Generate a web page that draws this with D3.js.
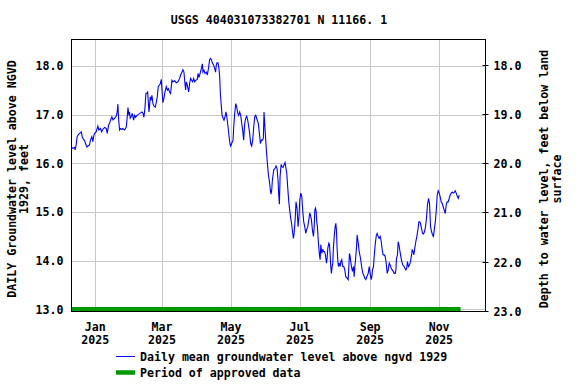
<!DOCTYPE html>
<html><head><meta charset="utf-8">
<script src="https://cdn.jsdelivr.net/npm/d3@7/dist/d3.min.js"></script>
<style>
body{margin:0;background:#fff}
text{font-family:"DejaVu Sans Mono","Liberation Mono",monospace;font-weight:bold;font-size:11.6px;fill:#000}
</style>
</head><body>
<svg id="chart" width="576" height="384"></svg>
<script>
// ---------- data ----------
const chartTitle = "USGS 404031073382701 N 11166. 1";
const leftAxisTitle = ["DAILY Groundwater level above NGVD", "1929, feet"];
const rightAxisTitle = ["Depth to water level, feet below land", "surface"];
const leftTicks = [13, 14, 15, 16, 17, 18];
const rightTicks = [18, 19, 20, 21, 22, 23];
const monthTicks = ["2025-01-01", "2025-03-01", "2025-05-01", "2025-07-01", "2025-09-01", "2025-11-01"];
const monthLabels = ["Jan", "Mar", "May", "Jul", "Sep", "Nov"];
const yearLabels = ["2025", "2025", "2025", "2025", "2025", "2025"];
const legendLabels = ["Daily mean groundwater level above ngvd 1929", "Period of approved data"];
const xDomain = ["2024-12-11", "2025-12-12"];
const approvedPeriod = ["2024-12-11", "2025-11-20"];
const approvedLevel = 13.0;
const baseDate = "2025-01-01";
// [days since 2025-01-01, daily mean level (ft above NGVD 1929)]
const dailyLevels = [
[-21.3,16.34],[-19.8,16.31],[-18.3,16.33],[-17.7,16.28],[-16.9,16.38],[-16.0,16.55],[-14.8,16.60],[-13.3,16.63],[-12.4,16.65],[-11.5,16.55],
[-10.4,16.49],[-9.5,16.48],[-8.6,16.41],[-7.4,16.34],[-6.5,16.36],[-5.1,16.38],[-4.2,16.48],[-3.0,16.55],[-2.1,16.45],[-1.2,16.58],
[-0.6,16.62],[0.8,16.65],[2.3,16.77],[3.2,16.69],[4.7,16.72],[5.6,16.65],[6.7,16.70],[8.2,16.74],[9.7,16.72],[10.6,16.62],
[11.8,16.79],[12.6,16.82],[13.5,16.89],[14.7,16.96],[15.6,16.90],[17.1,16.93],[18.5,16.97],[19.4,17.06],[20.0,17.22],[20.6,16.93],
[21.5,16.69],[22.4,16.72],[23.6,16.70],[24.4,16.72],[25.9,16.69],[27.4,16.75],[28.3,16.96],[28.9,17.15],[29.8,16.99],[30.3,17.06],
[30.9,16.93],[31.8,16.96],[32.7,17.03],[33.9,16.89],[34.8,16.99],[35.7,16.95],[36.8,16.99],[38.3,17.01],[40.1,17.04],[41.3,17.06],
[42.1,17.04],[43.0,16.95],[43.9,17.13],[44.8,17.44],[45.7,17.45],[46.3,17.47],[46.9,17.27],[47.5,17.06],[48.0,17.18],[48.6,17.37],
[49.2,17.30],[50.1,17.40],[51.0,17.23],[51.9,17.18],[53.1,17.16],[53.9,17.25],[54.8,17.37],[55.7,17.58],[56.6,17.61],[57.5,17.64],
[58.4,17.73],[59.0,17.51],[59.8,17.25],[60.7,17.34],[61.6,17.47],[62.8,17.58],[63.7,17.51],[64.6,17.54],[65.7,17.47],[66.6,17.44],
[67.8,17.71],[68.7,17.68],[70.2,17.70],[71.6,17.66],[73.1,17.68],[74.6,17.75],[75.5,17.82],[76.7,17.88],[77.5,17.93],[78.4,17.88],
[79.3,17.64],[79.9,17.51],[80.5,17.68],[81.4,17.61],[82.6,17.47],[83.4,17.64],[84.3,17.75],[85.2,17.71],[86.1,17.68],[87.0,17.75],
[87.9,17.68],[88.8,17.71],[90.2,17.73],[90.8,17.85],[91.7,17.78],[92.3,17.82],[93.8,17.95],[94.7,18.05],[95.2,17.88],[96.1,17.92],
[97.0,17.85],[98.2,17.88],[99.1,17.82],[100.3,17.99],[101.1,18.14],[102.0,18.16],[102.9,18.12],[103.5,18.07],[104.7,18.02],[105.6,17.95],
[106.4,17.88],[107.0,18.02],[107.6,18.07],[108.5,18.07],[109.4,17.95],[110.0,17.78],[110.6,17.44],[111.5,17.16],[112.1,16.99],[113.0,16.93],
[113.8,16.89],[114.7,16.96],[115.6,17.06],[116.5,16.93],[117.4,16.75],[118.3,16.55],[119.1,16.41],[119.7,16.36],[120.6,16.41],[121.8,16.48],
[122.4,16.75],[123.3,17.03],[124.2,17.23],[125.0,17.17],[125.9,17.04],[126.8,16.99],[127.7,17.06],[128.6,16.99],[129.5,16.82],[130.3,16.69],
[131.2,16.48],[132.1,16.82],[133.0,16.93],[133.9,16.97],[134.8,16.89],[135.7,16.75],[136.5,16.62],[137.4,16.41],[138.3,16.36],[139.2,16.48],
[140.1,16.75],[141.0,16.96],[141.9,16.99],[142.7,16.93],[144.2,16.82],[145.1,16.62],[146.0,16.41],[146.9,16.48],[147.8,16.48],[148.6,16.52],
[149.2,17.06],[149.8,16.82],[150.7,16.48],[151.6,16.17],[152.2,16.00],[153.1,15.76],[154.0,15.63],[154.8,15.45],[155.4,15.37],[156.0,15.45],
[156.6,15.66],[157.8,15.87],[159.0,15.90],[159.8,15.95],[160.7,15.90],[161.6,15.66],[162.2,15.35],[162.8,15.16],[163.4,15.73],[164.3,15.98],
[165.2,15.93],[166.0,15.92],[166.9,15.97],[167.8,16.02],[168.4,15.93],[169.3,15.80],[170.2,15.49],[171.1,15.21],[171.9,15.04],[172.8,14.87],
[173.7,14.74],[174.6,14.56],[175.2,14.46],[175.8,14.56],[176.7,14.84],[177.5,15.21],[178.4,15.08],[179.3,14.70],[180.2,14.94],[180.8,15.25],
[181.7,15.39],[182.6,15.32],[183.5,15.01],[184.3,14.80],[185.2,14.70],[186.1,14.56],[187.0,14.65],[187.9,14.70],[188.8,14.84],[189.6,14.98],
[190.2,14.94],[191.1,14.84],[192.0,14.63],[192.9,14.50],[193.5,14.67],[194.1,15.04],[194.7,15.08],[195.3,15.01],[195.8,14.80],[196.4,14.70],
[197.3,14.36],[198.2,14.12],[198.8,14.02],[199.4,14.33],[200.3,14.15],[201.1,14.24],[201.7,14.19],[202.6,14.19],[203.5,14.12],[204.4,13.95],
[205.0,14.05],[205.6,14.26],[206.5,14.36],[207.1,14.33],[207.6,14.15],[208.2,13.88],[208.8,13.74],[209.4,13.88],[210.0,13.95],[210.6,14.29],
[211.5,14.56],[212.1,14.70],[212.7,14.77],[213.2,14.63],[213.8,14.26],[214.4,14.02],[215.0,13.88],[215.6,13.95],[216.5,13.88],[217.1,13.98],
[217.9,14.02],[218.8,13.88],[219.7,13.88],[220.6,13.81],[221.5,13.67],[222.7,13.64],[223.6,13.61],[224.2,13.88],[224.7,14.15],[225.3,14.09],
[225.9,13.98],[226.5,13.88],[227.4,13.78],[228.3,13.88],[228.9,13.67],[229.5,13.88],[230.1,14.02],[231.0,14.29],[231.5,14.53],[232.1,14.43],
[232.7,14.33],[233.3,14.19],[233.9,14.12],[234.5,14.05],[235.1,13.95],[235.7,13.85],[236.5,13.74],[237.4,13.70],[238.3,13.64],[239.2,13.61],
[240.1,13.67],[241.3,13.74],[242.2,13.88],[243.0,13.74],[243.9,13.61],[244.5,13.67],[245.1,13.81],[246.0,13.88],[246.6,14.09],[247.5,14.33],
[248.4,14.51],[249.2,14.56],[250.1,14.50],[251.0,14.46],[251.9,14.50],[252.8,14.40],[253.7,14.22],[254.5,14.12],[255.4,14.12],[256.3,14.09],
[257.2,13.95],[258.1,13.74],[259.0,13.81],[259.9,13.95],[260.7,13.91],[261.6,13.85],[262.5,13.81],[263.4,13.78],[264.3,13.74],[265.2,13.74],
[265.8,13.81],[266.3,14.05],[267.2,14.12],[267.8,14.39],[268.7,14.30],[269.2,14.22],[270.1,14.09],[271.0,13.98],[271.9,13.91],[272.8,13.89],
[273.7,13.85],[274.6,13.81],[275.4,13.85],[276.0,13.98],[276.9,13.88],[277.8,13.91],[278.7,13.98],[279.6,14.12],[280.2,14.22],[281.0,14.19],
[281.6,14.12],[282.5,14.26],[283.4,14.39],[284.3,14.50],[285.2,14.63],[286.1,14.80],[286.9,14.80],[287.5,14.77],[288.4,14.67],[289.3,14.56],
[290.2,14.55],[291.1,14.60],[292.0,14.70],[292.8,14.87],[293.7,15.15],[294.6,15.28],[295.5,15.18],[296.4,14.70],[297.3,14.60],[298.2,14.53],
[299.0,14.50],[299.9,14.67],[300.8,14.84],[301.7,15.11],[302.3,15.35],[303.2,15.44],[304.1,15.39],[304.9,15.32],[305.8,15.21],[306.7,15.18],
[307.6,15.11],[308.5,15.04],[309.4,14.97],[310.3,15.15],[311.1,15.21],[312.0,15.21],[312.9,15.28],[313.8,15.35],[314.7,15.39],[315.6,15.41],
[316.4,15.39],[317.3,15.40],[318.2,15.44],[319.1,15.39],[320.0,15.33],[320.9,15.28],[321.8,15.35]
];

// ---------- layout ----------
const X0 = 71.5, X1 = 485.5, Y0 = 39.5, Y1 = 311.5;
const svg = d3.select("#chart");
const parse = s => new Date(s + "T00:00:00Z");
const base = parse(baseDate).getTime();
const toDate = d => new Date(base + d * 864e5);

const x = d3.scaleUtc().domain(xDomain.map(parse)).range([X0, X1]);
const yL = d3.scaleLinear().domain([12.955, 18.55]).range([Y1, Y0]);
const yR = d3.scaleLinear().domain([17.49, 23.01]).range([Y0, Y1]);

// gridlines
const grid = svg.append("g").attr("stroke", "#c8c8c8").attr("stroke-width", 1);
grid.selectAll("line.h").data(leftTicks).join("line")
  .attr("x1", X0).attr("x2", X1)
  .attr("y1", d => Math.round(yL(d)) + 0.5).attr("y2", d => Math.round(yL(d)) + 0.5);
grid.selectAll("line.v").data(monthTicks).join("line")
  .attr("y1", Y0).attr("y2", Y1)
  .attr("x1", d => Math.round(x(parse(d))) + 0.5).attr("x2", d => Math.round(x(parse(d))) + 0.5);

// approved period bar
svg.append("line")
  .attr("x1", x(parse(approvedPeriod[0]))).attr("x2", x(parse(approvedPeriod[1])))
  .attr("y1", yL(approvedLevel)).attr("y2", yL(approvedLevel))
  .attr("stroke", "#009900").attr("stroke-width", 4.5);

// data line
svg.append("clipPath").attr("id", "clip").append("rect")
  .attr("x", X0).attr("y", Y0).attr("width", X1 - X0).attr("height", Y1 - Y0);
const line = d3.line().x(d => x(toDate(d[0]))).y(d => yL(d[1]));
svg.append("path").datum(dailyLevels)
  .attr("clip-path", "url(#clip)")
  .attr("d", line).attr("fill", "none").attr("stroke", "#0000ff").attr("stroke-width", 1.1);

// frame
svg.append("rect").attr("x", X0).attr("y", Y0).attr("width", X1 - X0).attr("height", Y1 - Y0)
  .attr("fill", "none").attr("stroke", "#000").attr("stroke-width", 1);

// left axis labels
svg.append("g").selectAll("text").data(leftTicks).join("text")
  .attr("x", 63.5).attr("y", d => yL(d) + 4.2).attr("text-anchor", "end")
  .text(d => d.toFixed(1));

// right axis ticks and labels
svg.append("g").selectAll("line").data(rightTicks).join("line")
  .attr("x1", X1 - 3).attr("x2", X1 + 3)
  .attr("y1", d => Math.round(yR(d)) + 0.5).attr("y2", d => Math.round(yR(d)) + 0.5)
  .attr("stroke", "#000");
svg.append("g").selectAll("text").data(rightTicks).join("text")
  .attr("x", 493.5).attr("y", d => yR(d) + 5).attr("text-anchor", "start")
  .text(d => d.toFixed(1));

// x axis labels
const xl = svg.append("g").selectAll("g").data(monthTicks).join("g")
  .attr("transform", d => `translate(${x(parse(d))},0)`);
xl.append("text").attr("y", 330.5).attr("text-anchor", "middle").text((d, i) => monthLabels[i]);
xl.append("text").attr("y", 344).attr("text-anchor", "middle").text((d, i) => yearLabels[i]);

// title
svg.append("text").attr("x", 279).attr("y", 23.5).attr("text-anchor", "middle").text(chartTitle);

// axis titles
const lt = svg.append("g").attr("transform", "translate(0,179) rotate(-90)");
lt.append("text").attr("x", 0).attr("y", 15.5).attr("text-anchor", "middle").text(leftAxisTitle[0]);
lt.append("text").attr("x", 0).attr("y", 27.5).attr("text-anchor", "middle").text(leftAxisTitle[1]);
const rt = svg.append("g").attr("transform", "translate(0,179) rotate(-90)");
rt.append("text").attr("x", 0).attr("y", 547.5).attr("text-anchor", "middle").text(rightAxisTitle[0]);
rt.append("text").attr("x", 0).attr("y", 560.5).attr("text-anchor", "middle").text(rightAxisTitle[1]);

// legend
const lg = svg.append("g");
lg.append("line").attr("x1", 116).attr("x2", 135).attr("y1", 356.5).attr("y2", 356.5)
  .attr("stroke", "#0000ff").attr("stroke-width", 1);
lg.append("text").attr("x", 140).attr("y", 360.5).text(legendLabels[0]);
lg.append("line").attr("x1", 116).attr("x2", 135).attr("y1", 372.5).attr("y2", 372.5)
  .attr("stroke", "#009900").attr("stroke-width", 4.5);
lg.append("text").attr("x", 140).attr("y", 377).text(legendLabels[1]);
</script>
</body></html>
